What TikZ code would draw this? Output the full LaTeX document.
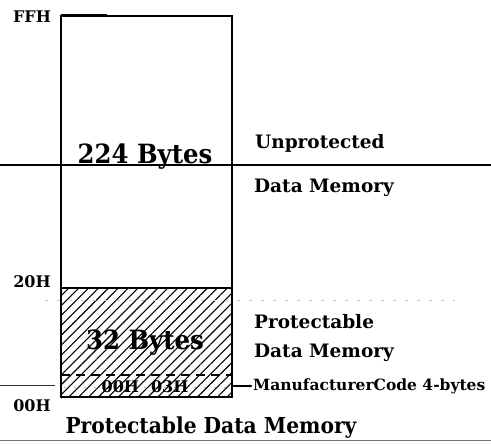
\documentclass[tikz,border=0pt]{standalone}
\usepackage{fontspec}
\setmainfont{DejaVu Serif}
\newfontfamily\condserif[FakeStretch=0.92]{DejaVu Serif}
\usetikzlibrary{patterns.meta,arrows.meta}
\tikzset{
  addr/.style={font=\bfseries\fontsize{16}{16}\selectfont, inner sep=0pt},
  sizelbl/.style={font=\condserif\bfseries\fontsize{26.5}{26.5}\selectfont, inner sep=0pt},
  sidelbl/.style={font=\bfseries\fontsize{18.5}{18.5}\selectfont, inner sep=0pt, anchor=west},
  border/.style={line width=2pt},
  hatch/.style={pattern={Lines[angle=45,distance=7pt,line width=1.1pt]}},
}
\begin{document}
\begin{tikzpicture}[x=1pt,y=-1pt]
\useasboundingbox (0,0) rectangle (491,446);

% protectable region hatching
\fill[hatch] (61,288) rectangle (232,397);
% faint separator through the lower region
\draw[gray!45, line width=0.7pt, dash pattern=on 3pt off 9pt] (45,300) -- (455,300);
% manufacturer code block
\draw[line width=1.2pt, dash pattern=on 9pt off 6pt] (61,375) -- (232,375);
\draw[gray!60, line width=0.7pt, dash pattern=on 2pt off 8pt] (64,387) -- (230,387);
\node[font=\bfseries\fontsize{16}{16}\selectfont, inner sep=0pt] (mc) at (145,387) {00H\hspace{12pt}03H};

% memory outline
\node[draw, border, minimum width=171pt, minimum height=381pt, inner sep=0pt] (mem) at (146.5,206.5) {};
\draw[border] (61,288) -- (232,288);
\draw[line width=3pt] (61,16) -- (107,16);

% long ruling lines
\draw[line width=1.5pt] (0,165) -- (491,165);
\draw[line width=1pt, black!80] (0,386) -- (55,386);
\draw[line width=1pt, black!55] (0,441) -- (491,441);

% address labels
\node[addr] (ffh) at (32,17) {FFH};
\node[addr] (h20) at (32,282) {20H};
\node[addr] (h00) at (32,406) {00H};

% size labels
\node[sizelbl] (b224) at (145,157) {224 Bytes};
\node[sizelbl] (b32) at (145,343) {32 Bytes};

% region descriptions
\node[sidelbl] (unp) at (255,143) {Unprotected};
\node[sidelbl] (dm1) at (254,188) {Data Memory};
\node[sidelbl] (prot) at (254,322) {Protectable};
\node[sidelbl] (dm2) at (254,353) {Data Memory};
\node[sidelbl, font=\bfseries\fontsize{15.5}{15.5}\selectfont] (mfr) at (253,386) {ManufacturerCode 4-bytes};
\coordinate (mcedge) at (232,386);
\draw[line width=1.2pt, -{Latex[length=3.5pt,width=3.5pt]}] (mcedge) -- (mfr.west);

% caption
\node[font=\condserif\bfseries\fontsize{22}{22}\selectfont, inner sep=0pt] (cap) at (211,428) {Protectable Data Memory};
\end{tikzpicture}
\end{document}
